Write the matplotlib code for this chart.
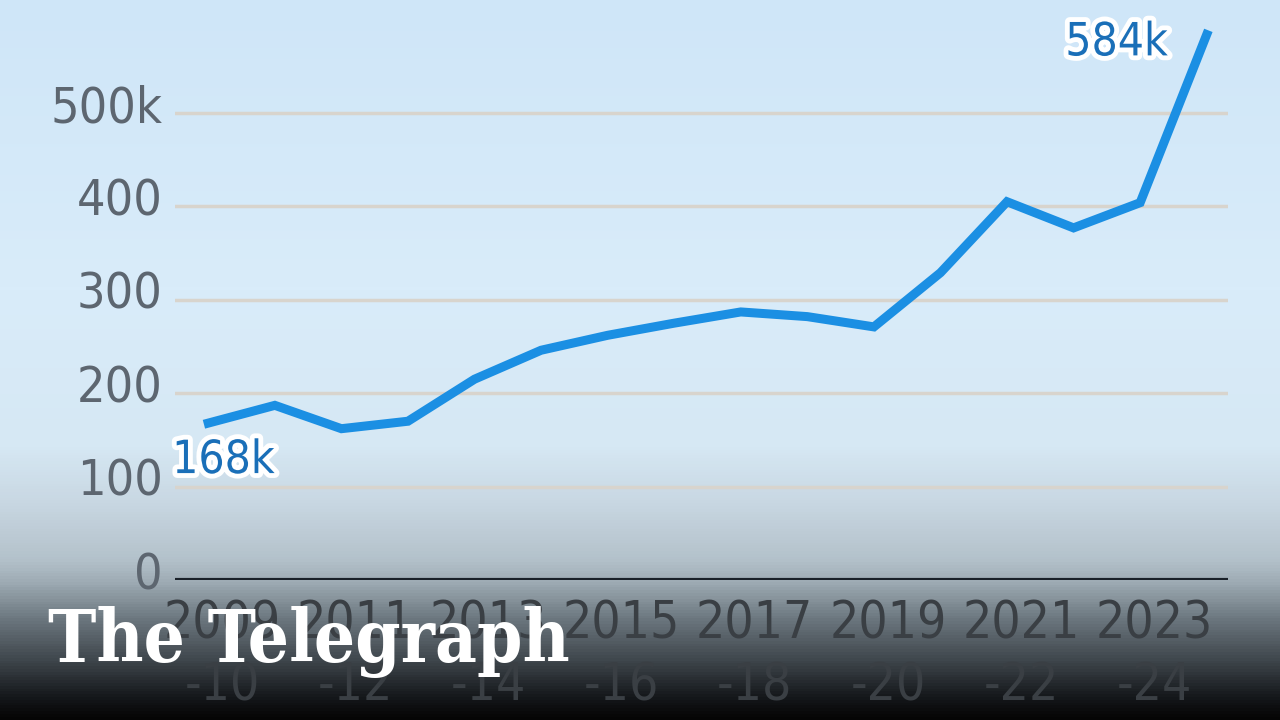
import numpy as np
import matplotlib.pyplot as plt
import matplotlib.patheffects as pe
from matplotlib.colors import LinearSegmentedColormap
from matplotlib.transforms import ScaledTranslation

# financial years 2009-10 .. 2024-25, thousands
years = list(range(2009, 2025))
values = [168, 187, 162, 170, 215, 246, 262, 275, 287, 282, 271, 329, 405, 377, 404, 584]
tick_years = [2009, 2011, 2013, 2015, 2017, 2019, 2021, 2023]
yticks = [0, 100, 200, 300, 400, 500]
ylabels = ['0', '100', '200', '300', '400', '500k']

plt.rcParams['font.family'] = ['DejaVu Sans']
plt.rcParams['font.stretch'] = 'condensed'

fig = plt.figure(figsize=(12.8, 7.2), dpi=100)

# background gradient, top to bottom
bg = fig.add_axes([0, 0, 1, 1])
stops = [(0.0, '#cfe6f8'), (0.40, '#d9ecfa'), (0.62, '#d6e8f4'),
         (0.70, '#c8d7e2'), (0.78, '#b3c1ca'), (0.81, '#9eabb4'),
         (0.86, '#6d7880'), (0.92, '#3e454b'), (0.97, '#15181b'), (1.0, '#050505')]
cmap = LinearSegmentedColormap.from_list('bg', stops)
grad = np.linspace(0, 1, 720).reshape(-1, 1)
bg.imshow(grad, aspect='auto', cmap=cmap, extent=[0, 1, 0, 1], origin='upper')
bg.set_axis_off()

ax = fig.add_axes([175 / 1280, 140 / 720, 1053 / 1280, 580 / 720])
ax.patch.set_alpha(0)
x = np.arange(len(years))
ax.plot(x, values, color='#1b8fe3', lw=6.5, solid_joinstyle='miter', zorder=3)

ax.set_xlim(-0.5, len(years) - 1 + 0.32)
ax.set_ylim(0, 621)

for v in yticks[1:]:
    ax.axhline(v, color='#d8d4cd', lw=2.5, zorder=1)
ax.axhline(0, color='#1a2129', lw=3, zorder=2)

for s in ax.spines.values():
    s.set_visible(False)

ax.set_yticks(yticks)
ax.set_yticklabels(ylabels)
ax.tick_params(axis='y', length=0, pad=9, labelsize=36, labelcolor='#5d6670')
up = ScaledTranslation(0, 10 / 100, fig.dpi_scale_trans)
for lab in ax.get_yticklabels():
    lab.set_transform(lab.get_transform() + up)

ax.set_xticks([years.index(yy) for yy in tick_years])
ax.set_xticklabels([f'{yy}\n-{(yy + 1) % 100:02d}' for yy in tick_years],
                   linespacing=1.3)
ax.tick_params(axis='x', length=0, pad=14, labelsize=37, labelcolor='#3a3f44')
offset = ScaledTranslation(14 / 100, 0, fig.dpi_scale_trans)
for lab in ax.get_xticklabels():
    lab.set_transform(lab.get_transform() + offset)

halo = [pe.withStroke(linewidth=7, foreground='white')]
ax.annotate(f'{values[0]}k', (x[0], values[0]), xytext=(-26, -27),
            textcoords='offset points', fontsize=33, color='#1a6fb8',
            ha='left', va='center', path_effects=halo, zorder=4)
ax.annotate(f'{values[-1]}k', (x[-1], values[-1]), xytext=(-28, -6),
            textcoords='offset points', fontsize=33, color='#1a6fb8',
            ha='right', va='center', path_effects=halo, zorder=4)

fig.text(48 / 1280, 1 - 642 / 720, 'The Telegraph', fontsize=52,
         family=['DejaVu Serif'], weight='bold', color='white',
         ha='left', va='center')

fig.savefig('out.png', dpi=100)
